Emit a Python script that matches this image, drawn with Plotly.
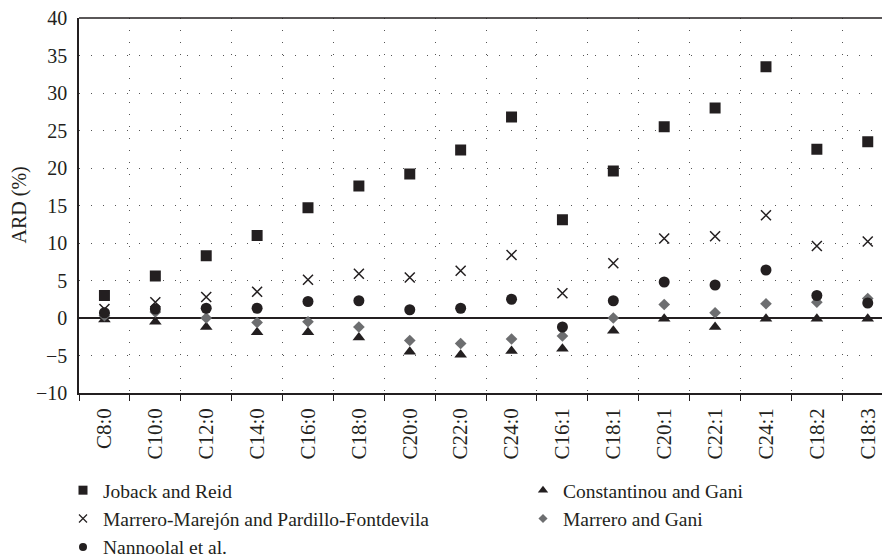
import plotly.graph_objects as go

categories = ["C8:0", "C10:0", "C12:0", "C14:0", "C16:0", "C18:0", "C20:0", "C22:0",
              "C24:0", "C16:1", "C18:1", "C20:1", "C22:1", "C24:1", "C18:2", "C18:3"]

joback = [3.0, 5.6, 8.3, 11.0, 14.7, 17.6, 19.2, 22.4, 26.8, 13.1, 19.6, 25.5, 28.0, 33.5, 22.5, 23.5]
marrero_marejon = [1.2, 2.1, 2.8, 3.5, 5.1, 5.9, 5.4, 6.3, 8.4, 3.3, 7.3, 10.6, 10.9, 13.7, 9.6, 10.2]
nannoolal = [0.7, 1.2, 1.3, 1.3, 2.2, 2.3, 1.1, 1.3, 2.5, -1.2, 2.3, 4.8, 4.4, 6.4, 3.0, 2.0]
constantinou = [-0.2, -0.5, -1.2, -1.9, -1.9, -2.6, -4.5, -4.9, -4.4, -4.1, -1.7, -0.1, -1.2, -0.1, -0.1, -0.1]
marrero_gani = [0.3, 0.8, 0.0, -0.6, -0.5, -1.2, -3.0, -3.4, -2.8, -2.4, 0.0, 1.8, 0.7, 1.9, 2.1, 2.6]

y_ticks = [-10, -5, 0, 5, 10, 15, 20, 25, 30, 35, 40]
y_title = "ARD (%)"

SERIF = "Liberation Serif, Times New Roman, DejaVu Serif, serif"
INK = "#231f20"
GREY = "#6d6e70"

series = [
    # name, values, symbol, size, legend size, colour, legend, legend rank
    ("Joback and Reid", joback, "square", 11, 9, INK, "legend", 1),
    ("Marrero-Marejón and Pardillo-Fontdevila", marrero_marejon, "x-thin", 10, 8, INK, "legend", 2),
    ("Constantinou and Gani", constantinou, "triangle-up", 11, 9, INK, "legend2", 1),
    ("Marrero and Gani", marrero_gani, "diamond", 9, 7, GREY, "legend2", 2),
    ("Nannoolal et al.", nannoolal, "circle", 11, 8, INK, "legend", 3),
]

fig = go.Figure()
for name, vals, sym, size, lsize, col, leg, rank in series:
    line = dict(width=1.5, color=col) if sym == "x-thin" else dict(width=0)
    fig.add_trace(go.Scatter(x=categories, y=vals, mode="markers", name=name,
                             showlegend=False,
                             marker=dict(symbol=sym, size=size, color=col, line=line)))
for name, vals, sym, size, lsize, col, leg, rank in series:
    line = dict(width=1.2, color=col) if sym == "x-thin" else dict(width=0)
    fig.add_trace(go.Scatter(x=[None], y=[None], mode="markers", name=name,
                             legend=leg, legendrank=rank, showlegend=True,
                             marker=dict(symbol=sym, size=lsize, color=col, line=line)))

legend_common = dict(orientation="v", xref="container", xanchor="left",
                     yref="container", yanchor="top", tracegroupgap=0, itemwidth=30,
                     bgcolor="rgba(0,0,0,0)",
                     font=dict(family=SERIF, size=19.5, color=INK))

fig.update_layout(
    width=882, height=559,
    margin=dict(l=79, r=0, t=18, b=166, autoexpand=False),
    paper_bgcolor="white", plot_bgcolor="white",
    font=dict(family=SERIF, size=20, color=INK),
    showlegend=True,
    legend=dict(x=63 / 882, y=(559 - 471) / 559, **legend_common),
    legend2=dict(x=523 / 882, y=(559 - 471) / 559, **legend_common),
    xaxis=dict(
        type="category", categoryorder="array", categoryarray=categories,
        range=[-0.5, 15.28], automargin=False,
        tickson="boundaries", ticks="outside", ticklen=6, tickcolor=INK,
        tickangle=-90, tickfont=dict(family=SERIF, size=21, color=INK),
        ticklabelstandoff=5,
        showline=True, linecolor=INK, linewidth=1.5,
        showgrid=True, gridcolor="#555555", gridwidth=1, griddash="1px,11px",
    ),
    yaxis=dict(
        range=[-10, 40], tickvals=y_ticks, ticks="", automargin=False,
        tickfont=dict(family=SERIF, size=20, color=INK),
        showline=True, linecolor=INK, linewidth=1.5,
        showgrid=True, gridcolor="#555555", gridwidth=1, griddash="1px,11px",
        zeroline=True, zerolinecolor=INK, zerolinewidth=1.5,
        ticklabelstandoff=6,
    ),
    annotations=[dict(text=y_title, textangle=-90, showarrow=False,
                      xref="paper", yref="paper", x=(19 - 79) / 803, y=0.5,
                      xanchor="center", yanchor="middle",
                      font=dict(family=SERIF, size=20, color=INK))],
    shapes=[dict(type="line", xref="paper", yref="paper", x0=0, x1=1, y0=1, y1=1,
                 line=dict(color=INK, width=1.5))],
)

fig.write_html("out.html")
